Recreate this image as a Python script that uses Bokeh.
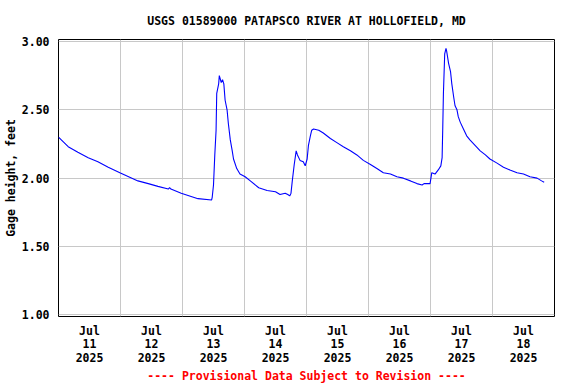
import pandas as pd
from bokeh.plotting import figure
from bokeh.models import Range1d, FixedTicker, PrintfTickFormatter, Title, ColumnDataSource
from bokeh.embed import file_html
from bokeh.resources import INLINE

# ---- data ----
times = [
    "07-11 00:00", "07-11 03:45", "07-11 07:30", "07-11 11:30", "07-11 15:15", "07-11 19:15",
    "07-11 23:45", "07-12 06:45", "07-12 10:45", "07-12 14:30", "07-12 18:30", "07-12 19:00",
    "07-12 19:30", "07-12 23:30", "07-13 06:00", "07-13 11:15", "07-13 11:30", "07-13 12:00",
    "07-13 12:30", "07-13 13:00", "07-13 13:15", "07-13 14:00", "07-13 14:15", "07-13 15:00",
    "07-13 15:30", "07-13 16:00", "07-13 16:30", "07-13 17:15", "07-13 17:45", "07-13 18:30",
    "07-13 19:15", "07-13 19:45", "07-13 21:00", "07-13 22:15", "07-14 00:15", "07-14 02:15",
    "07-14 05:30", "07-14 08:45", "07-14 12:00", "07-14 13:45", "07-14 15:45", "07-14 16:45",
    "07-14 17:30", "07-14 18:00", "07-14 18:30", "07-14 19:15", "07-14 20:00", "07-14 20:30",
    "07-14 21:30", "07-14 22:45", "07-14 23:30", "07-15 00:15", "07-15 00:45", "07-15 01:30",
    "07-15 02:00", "07-15 02:45", "07-15 04:45", "07-15 06:30", "07-15 09:15", "07-15 11:45",
    "07-15 14:15", "07-15 17:00", "07-15 19:30", "07-15 22:00", "07-16 00:45", "07-16 03:15",
    "07-16 05:45", "07-16 08:30", "07-16 11:00", "07-16 13:30", "07-16 16:15", "07-16 18:45",
    "07-16 20:45", "07-16 21:30", "07-16 23:15", "07-16 23:50", "07-17 00:30", "07-17 01:45",
    "07-17 03:00", "07-17 04:00", "07-17 04:30", "07-17 04:45", "07-17 05:00", "07-17 05:30",
    "07-17 06:00", "07-17 06:15", "07-17 07:00", "07-17 07:45", "07-17 08:15", "07-17 09:00",
    "07-17 09:30", "07-17 10:15", "07-17 10:45", "07-17 11:30", "07-17 12:45", "07-17 14:00",
    "07-17 15:15", "07-17 17:15", "07-17 19:15", "07-17 21:15", "07-17 23:00", "07-18 01:45",
    "07-18 04:15", "07-18 06:45", "07-18 09:30", "07-18 12:00", "07-18 14:30", "07-18 17:15",
    "07-18 19:00", "07-18 20:00",
]
gage_height = [
    2.30, 2.23, 2.19, 2.15, 2.12, 2.08,
    2.04, 1.98, 1.96, 1.94, 1.92, 1.93,
    1.92, 1.89, 1.85, 1.84, 1.86, 1.95,
    2.17, 2.35, 2.62, 2.69, 2.75, 2.70,
    2.72, 2.69, 2.57, 2.50, 2.40, 2.28,
    2.20, 2.14, 2.07, 2.03, 2.01, 1.98,
    1.93, 1.91, 1.90, 1.88, 1.89, 1.88,
    1.87, 1.89, 1.98, 2.10, 2.20, 2.17,
    2.13, 2.12, 2.09, 2.14, 2.24, 2.31,
    2.35, 2.36, 2.35, 2.33, 2.29, 2.26,
    2.23, 2.20, 2.17, 2.13, 2.10, 2.07,
    2.04, 2.03, 2.01, 2.00, 1.98, 1.96,
    1.95, 1.96, 1.96, 1.96, 2.04, 2.03,
    2.06, 2.09, 2.15, 2.37, 2.62, 2.91,
    2.95, 2.93, 2.84, 2.78, 2.69, 2.59,
    2.53, 2.50, 2.45, 2.41, 2.36, 2.31,
    2.28, 2.24, 2.20, 2.17, 2.14, 2.11,
    2.08, 2.06, 2.04, 2.03, 2.01, 2.00,
    1.98, 1.97,
]
year = 2025
days = [11, 12, 13, 14, 15, 16, 17, 18]
month_label = "Jul"
y_ticks = [1.00, 1.50, 2.00, 2.50, 3.00]
title_text = "USGS 01589000 PATAPSCO RIVER AT HOLLOFIELD, MD"
y_label_text = "Gage height, feet"
footer_text = "---- Provisional Data Subject to Revision ----"

FONT = "DejaVu Sans Mono"
FS = "11.5px"

x = pd.to_datetime([f"{year}-{t}" for t in times])
src = ColumnDataSource(dict(x=x, y=gage_height))

start = pd.Timestamp(year=year, month=7, day=days[0])
end = pd.Timestamp(year=year, month=7, day=days[-1]) + pd.Timedelta(days=1)

def ms(ts):
    return ts.value / 1e6

p = figure(
    x_axis_type="datetime",
    frame_width=496, frame_height=277,
    min_border_left=58, min_border_right=22, min_border_top=39, min_border_bottom=68,
    output_backend="svg", toolbar_location=None,
    x_range=Range1d(start, end), y_range=Range1d(0.9876, 3.0146),
    title=title_text,
)

p.line("x", "y", source=src, line_color="#0000ff", line_width=1.1)

# title
p.title.align = "center"
p.title.text_font = FONT
p.title.text_font_size = FS
p.title.text_font_style = "bold"
p.title.text_color = "black"
p.title.standoff = 23

# footer
p.add_layout(Title(
    text=footer_text, align="center", text_font=FONT, text_font_size=FS,
    text_font_style="bold", text_color="#ff0000", standoff=-2,
), "below")

# frame
p.outline_line_color = "black"
p.outline_line_width = 1
p.background_fill_color = "white"
p.border_fill_color = "white"

# x axis: labels at noon, grid at midnight
noon = [ms(pd.Timestamp(year=year, month=7, day=d, hour=12)) for d in days]
midnight = [ms(pd.Timestamp(year=year, month=7, day=d)) for d in days] + [ms(end)]
p.xaxis.ticker = FixedTicker(ticks=noon, minor_ticks=[])
p.xgrid.ticker = FixedTicker(ticks=midnight, minor_ticks=[])
p.xaxis.major_label_overrides = {t: f"{month_label}\n{d}\n{year}" for t, d in zip(noon, days)}

# y axis
p.yaxis.ticker = FixedTicker(ticks=y_ticks, minor_ticks=[])
p.yaxis.formatter = PrintfTickFormatter(format="%.2f")
p.yaxis.axis_label = y_label_text
p.yaxis.axis_label_text_font = FONT
p.yaxis.axis_label_text_font_size = FS
p.yaxis.axis_label_text_font_style = "bold"
p.yaxis.axis_label_text_color = "black"
p.yaxis.axis_label_standoff = 1

for ax in (p.xaxis[0], p.yaxis[0]):
    ax.axis_line_color = None
    ax.major_tick_line_color = None
    ax.major_tick_in = 0
    ax.major_tick_out = 0
    ax.minor_tick_line_color = None
    ax.major_label_text_font = FONT
    ax.major_label_text_font_size = FS
    ax.major_label_text_font_style = "bold"
    ax.major_label_text_color = "black"
p.xaxis.major_label_standoff = 7
p.xaxis.major_label_text_line_height = 0.98
p.yaxis.major_label_standoff = 9

p.grid.grid_line_color = "#c8c8c8"
p.grid.grid_line_width = 1

open("out.html", "w").write(file_html(p, INLINE))
